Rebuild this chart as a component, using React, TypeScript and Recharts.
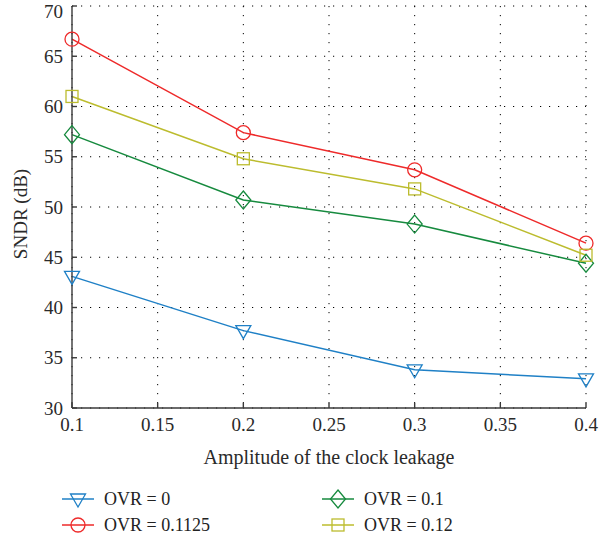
import { LineChart, Line, XAxis, YAxis, CartesianGrid, Legend } from 'recharts';

const amplitudes = [0.1, 0.2, 0.3, 0.4];
const ovr0 = [43.1, 37.7, 33.8, 32.9];
const ovr01125 = [66.7, 57.4, 53.7, 46.4];
const ovr01 = [57.2, 50.7, 48.3, 44.4];
const ovr012 = [61.0, 54.8, 51.8, 45.2];
const xTicks = [0.1, 0.15, 0.2, 0.25, 0.3, 0.35, 0.4];
const yTicks = [30, 35, 40, 45, 50, 55, 60, 65, 70];

const series = [
  { key: 'ovr0', name: 'OVR = 0', color: '#1f80c6', marker: 'triangle', values: ovr0 },
  { key: 'ovr01125', name: 'OVR = 0.1125', color: '#ee2a2a', marker: 'circle', values: ovr01125 },
  { key: 'ovr01', name: 'OVR = 0.1', color: '#168a3e', marker: 'diamond', values: ovr01 },
  { key: 'ovr012', name: 'OVR = 0.12', color: '#bcbc2e', marker: 'square', values: ovr012 },
];

const data = amplitudes.map((a, i) => {
  const row: any = { amp: a };
  series.forEach((s) => (row[s.key] = s.values[i]));
  return row;
});

const FONT = '"Liberation Serif", "DejaVu Serif", serif';
const AXIS = '#3a3a3a';
const TEXT = '#2a2a2a';

function Marker({ kind, color, cx, cy }: any) {
  const common = { fill: 'none', stroke: color, strokeWidth: 1.3 };
  switch (kind) {
    case 'triangle':
      return <path d={`M${cx - 7.5},${cy - 5} L${cx + 7.5},${cy - 5} L${cx},${cy + 8} Z`} {...common} />;
    case 'circle':
      return <circle cx={cx} cy={cy} r={7} {...common} />;
    case 'diamond':
      return <path d={`M${cx},${cy - 9} L${cx + 7.5},${cy} L${cx},${cy + 9} L${cx - 7.5},${cy} Z`} {...common} />;
    default:
      return <rect x={cx - 6} y={cy - 6} width={12} height={12} {...common} />;
  }
}

const LegendItem = ({ s }: any) => (
  <div style={{ display: 'flex', alignItems: 'center', height: 26 }}>
    <svg width={32} height={22} style={{ marginRight: 10 }}>
      <line x1={0} y1={11} x2={32} y2={11} stroke={s.color} strokeWidth={1.5} />
      <Marker kind={s.marker} color={s.color} cx={16} cy={11} />
    </svg>
    <span style={{ fontFamily: FONT, fontSize: 18, color: '#222' }}>{s.name}</span>
  </div>
);

const renderLegend = () => (
  <div style={{ position: 'relative', height: 56 }}>
    <div style={{ position: 'absolute', left: 62, top: 0 }}>
      <LegendItem s={series[0]} />
      <LegendItem s={series[1]} />
    </div>
    <div style={{ position: 'absolute', left: 322, top: 0 }}>
      <LegendItem s={series[2]} />
      <LegendItem s={series[3]} />
    </div>
  </div>
);

// y axis title, drawn rotated next to the tick labels
const YTitle = () => (
  <text x={20} y={214} transform="rotate(-90 20 214)" textAnchor="middle" dominantBaseline="central"
    fill={TEXT} fontSize={19} fontFamily={FONT}>
    SNDR (dB)
  </text>
);

export default function App() {
  const tickStyle = { fill: TEXT, fontSize: 19, fontFamily: FONT };
  return (
    <div style={{ position: 'absolute', left: 0, top: 0, background: '#fff' }}>
      <LineChart width={600} height={544} data={data} margin={{ top: 6, right: 14, bottom: 24, left: 12 }}>
        <CartesianGrid stroke="#000" strokeDasharray="1.2 7.8" horizontalValues={yTicks} verticalValues={xTicks} />
        <XAxis
          dataKey="amp"
          type="number"
          domain={[0.1, 0.4]}
          ticks={xTicks}
          height={56}
          stroke={AXIS}
          strokeWidth={1.4}
          tickSize={-5}
          tickMargin={15}
          tick={tickStyle}
          label={{ value: 'Amplitude of the clock leakage', position: 'insideBottom', offset: 0, fill: TEXT, fontSize: 20, fontFamily: FONT }}
        />
        <XAxis
          xAxisId="top"
          orientation="top"
          type="number"
          domain={[0.1, 0.4]}
          ticks={xTicks}
          height={0}
          stroke={AXIS}
          strokeWidth={1.4}
          tickSize={-5}
          tick={false}
        />
        <YAxis
          type="number"
          domain={[30, 70]}
          ticks={yTicks}
          width={60}
          stroke={AXIS}
          strokeWidth={1.4}
          tickSize={-5}
          tickMargin={14}
          tick={tickStyle}
          label={{ content: () => <YTitle /> }}
        />
        <YAxis
          yAxisId="right"
          orientation="right"
          type="number"
          domain={[30, 70]}
          ticks={yTicks}
          width={0}
          stroke={AXIS}
          strokeWidth={1.4}
          tickSize={-5}
          tick={false}
        />
        <Legend content={renderLegend} wrapperStyle={{ top: 486, left: 0, width: 600, height: 56 }} />
        {series.map((s) => (
          <Line
            key={s.key}
            dataKey={s.key}
            name={s.name}
            type="linear"
            stroke={s.color}
            strokeWidth={1.5}
            isAnimationActive={false}
            dot={(p: any) => <Marker key={`${s.key}-${p.index}`} kind={s.marker} color={s.color} cx={p.cx} cy={p.cy} />}
            activeDot={false}
          />
        ))}
      </LineChart>
    </div>
  );
}
